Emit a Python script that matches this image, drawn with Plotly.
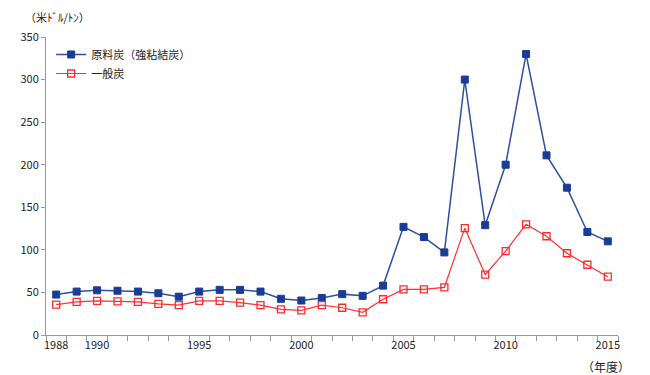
import plotly.graph_objects as go

years = list(range(1988, 2016))
coking = [47.5, 51, 52.5, 52, 51, 49, 45, 51, 53, 53, 51, 42.5, 40.5, 43.5, 48, 46, 58,
          127, 115, 97, 300, 129, 200, 330, 211, 173, 121, 110]
steam = [35.6, 39, 40, 39.5, 39, 36.5, 35, 40, 40, 38, 35, 30, 29, 35, 32, 26.6, 42,
         53.5, 53.5, 56, 125.5, 71, 98.5, 130, 116, 96, 82.5, 68.5]
tick_years = [1988, 1990, 1995, 2000, 2005, 2010, 2015]
names = ["原料炭（強粘結炭）", "一般炭"]

FONT = "Noto Sans CJK JP"

fig = go.Figure()
fig.add_trace(go.Scatter(
    x=years, y=coking, name=names[0], mode="lines+markers",
    line=dict(color="#2f4f9f", width=1.5),
    marker=dict(symbol="square", size=7, color="#1a3c96", line=dict(color="#1a3c96", width=1)),
))
fig.add_trace(go.Scatter(
    x=years, y=steam, name=names[1], mode="lines+markers",
    line=dict(color="#ff3030", width=1.2),
    marker=dict(symbol="square-open", size=7, color="#ff2a2a", line=dict(width=1.3)),
))

fig.update_layout(
    width=650, height=375,
    margin=dict(l=28, r=40, t=29, b=48),
    plot_bgcolor="white", paper_bgcolor="white",
    font=dict(family=FONT, size=11, color="#222"),
    showlegend=True,
    legend=dict(x=0.009, y=0.99, xanchor="left", yanchor="top",
                bgcolor="rgba(0,0,0,0)", font=dict(size=11, family=FONT),
                itemwidth=30, tracegroupgap=2),
    xaxis=dict(
        range=[1987.5, 2015.5], tickmode="array", tickvals=tick_years,
        ticktext=[str(v) for v in tick_years], ticks="", showgrid=False,
        showline=True, linecolor="#999", linewidth=1, zeroline=False,
        tickfont=dict(size=11, family="Liberation Sans Narrow, " + FONT),
        minor=dict(ticks="outside", ticklen=5, tick0=1987.5, dtick=1,
                   tickcolor="#999", showgrid=False),
    ),
    yaxis=dict(
        range=[0, 350], tickmode="linear", tick0=0, dtick=50, ticks="outside",
        ticklen=4, tickcolor="#999", showgrid=False, showline=True,
        linecolor="#999", linewidth=1, zeroline=False,
        tickfont=dict(size=11, family="Liberation Sans Narrow, " + FONT),
    ),
    annotations=[
        dict(text="（米ﾄﾞﾙ/ﾄﾝ）", xref="paper", yref="paper", x=-0.04, y=1.0,
             yshift=20, xanchor="left", yanchor="middle", showarrow=False,
             font=dict(size=11, family=FONT)),
        dict(text="（年度）", xref="paper", yref="paper", x=1.024, y=0,
             yshift=-31, xanchor="right", yanchor="middle", showarrow=False,
             font=dict(size=12, family=FONT)),
    ],
)

fig.write_html("out.html")
